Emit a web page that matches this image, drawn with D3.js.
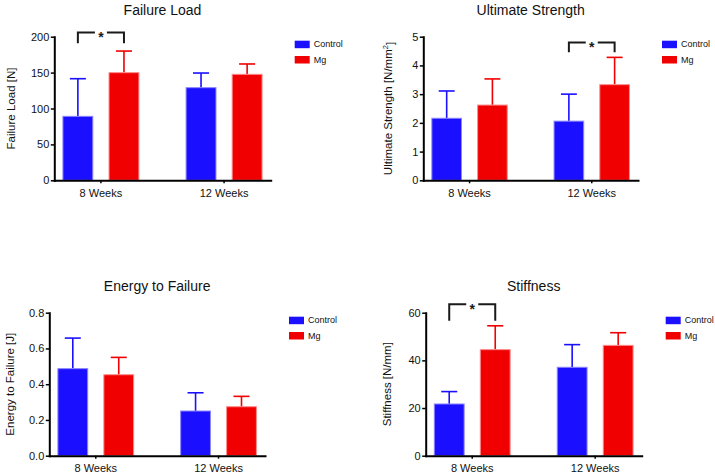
<!DOCTYPE html>
<html>
<head>
<meta charset="utf-8">
<script src="https://cdn.jsdelivr.net/npm/d3@7"></script>
<style>
  html, body { margin: 0; padding: 0; background: #fff; }
  svg { display: block; font-family: "Liberation Sans", Arial, Helvetica, sans-serif; }
</style>
</head>
<body>
<svg id="chart" width="715" height="475"></svg>
<script>
// ---------------- DATA ----------------
const groups = ["8 Weeks", "12 Weeks"];
const seriesNames = ["Control", "Mg"];
const seriesColors = ["#1a0fff", "#f00000"];
const seriesEdge = ["#8c86ff", "#ff8a8a"];

// Failure Load [N]
const failureLoadControl = [89.1, 129.0];
const failureLoadControlSD = [52.4, 20.4];
const failureLoadMg = [149.9, 147.6];
const failureLoadMgSD = [30.1, 14.4];
const failureLoadTicks = [0, 50, 100, 150, 200];

// Ultimate Strength [N/mm2]
const strengthControl = [2.16, 2.06];
const strengthControlSD = [0.95, 0.94];
const strengthMg = [2.62, 3.33];
const strengthMgSD = [0.91, 0.95];
const strengthTicks = [0, 1, 2, 3, 4, 5];

// Energy to Failure [J]
const energyControl = [0.487, 0.250];
const energyControlSD = [0.171, 0.102];
const energyMg = [0.453, 0.274];
const energyMgSD = [0.097, 0.058];
const energyTicks = [0, 0.2, 0.4, 0.6, 0.8];

// Stiffness [N/mm]
const stiffnessControl = [21.7, 37.1];
const stiffnessControlSD = [5.2, 9.5];
const stiffnessMg = [44.5, 46.3];
const stiffnessMgSD = [10.0, 5.3];
const stiffnessTicks = [0, 20, 40, 60];

// ---------------- DRAW ----------------
const svg = d3.select("#chart");

function panel(cfg) {
  const g = svg.append("g");
  const x = d3.scaleBand().domain(groups).range([cfg.x0, cfg.x1])
    .paddingInner(0.375).paddingOuter(0.066);
  const xs = d3.scaleBand().domain(seriesNames).range([0, x.bandwidth()])
    .paddingInner(0.33);
  const y = d3.scaleLinear().domain([0, cfg.max]).range([cfg.y0, cfg.y1]);

  const means = [cfg.control, cfg.mg];
  const sds = [cfg.controlSD, cfg.mgSD];
  const rows = [];
  seriesNames.forEach((s, si) => groups.forEach((gr, gi) => {
    rows.push({ s, si, gr, v: means[si][gi], sd: sds[si][gi] });
  }));

  // error bars (upper only)
  const capW = xs.bandwidth() * 0.52;
  rows.forEach(d => {
    const cx = x(d.gr) + xs(d.s) + xs.bandwidth() / 2;
    g.append("line").attr("x1", cx).attr("x2", cx)
      .attr("y1", y(d.v)).attr("y2", y(d.v + d.sd))
      .attr("stroke", seriesColors[d.si]).attr("stroke-width", 1.6);
    g.append("line").attr("x1", cx - capW / 2).attr("x2", cx + capW / 2)
      .attr("y1", y(d.v + d.sd)).attr("y2", y(d.v + d.sd))
      .attr("stroke", seriesColors[d.si]).attr("stroke-width", 1.6);
  });

  // bars
  g.selectAll("rect.bar").data(rows).join("rect").attr("class", "bar")
    .attr("x", d => x(d.gr) + xs(d.s) + 0.5)
    .attr("width", xs.bandwidth() - 1)
    .attr("y", d => y(d.v))
    .attr("height", d => y(0) - y(d.v))
    .attr("fill", d => seriesColors[d.si])
    .attr("stroke", d => seriesEdge[d.si])
    .attr("stroke-width", 1);

  // axes
  const yAxis = g.append("g").attr("transform", `translate(${cfg.x0},0)`)
    .call(d3.axisLeft(y).tickValues(cfg.ticks).tickSize(3.5).tickSizeOuter(0)
      .tickPadding(1.5).tickFormat(cfg.fmt));
  const xAxis = g.append("g").attr("transform", `translate(0,${cfg.y0})`)
    .call(d3.axisBottom(x).tickSize(3).tickSizeOuter(0).tickPadding(5.6));
  [yAxis, xAxis].forEach(a => {
    a.select(".domain").attr("stroke", "#000").attr("stroke-width", 2)
      .attr("stroke-linecap", "square");
    a.selectAll(".tick line").attr("stroke", "#000").attr("stroke-width", 1.5);
    a.selectAll(".tick text").attr("fill", "#111").style("font-size", "11px")
      .style("font-family", '"Liberation Sans", Arial, sans-serif');
  });

  // title
  g.append("text").attr("x", (cfg.x0 + cfg.x1) / 2).attr("y", cfg.y1 - 21.5)
    .attr("text-anchor", "middle").style("font-size", "14px").attr("fill", "#111")
    .text(cfg.title);

  // y label
  const yl = g.append("text")
    .attr("transform", `translate(${cfg.ylx},${(cfg.y0 + cfg.y1) / 2}) rotate(-90)`)
    .attr("text-anchor", "middle").attr("dominant-baseline", "central")
    .style("font-size", "11.5px").attr("fill", "#111");
  yl.append("tspan").text(cfg.ylabel);
  if (cfg.ysup) {
    yl.append("tspan").attr("dy", "-0.45em").style("font-size", "7.5px").text(cfg.ysup);
    yl.append("tspan").attr("dy", "0.45em").text(cfg.yafter);
  }

  // legend
  seriesNames.forEach((s, i) => {
    const ly = cfg.y1 + 4 + i * 15.3;
    g.append("rect").attr("x", cfg.x1 + 24).attr("y", ly).attr("width", 15).attr("height", 7.5)
      .attr("fill", seriesColors[i]);
    g.append("text").attr("x", cfg.x1 + 43).attr("y", ly + 3.75)
      .attr("dominant-baseline", "central").style("font-size", "9px").attr("fill", "#111")
      .text(s);
  });

  // significance bracket
  if (cfg.bracket) {
    const b = cfg.bracket;
    const xa = x(groups[b.group]) + xs(seriesNames[0]) + xs.bandwidth() / 2;
    const xb = x(groups[b.group]) + xs(seriesNames[1]) + xs.bandwidth() / 2;
    const xm = (xa + xb) / 2;
    const yt = y(b.top), yb = y(b.leg);
    const st = { stroke: "#1a1a1a", w: 2 };
    g.append("path").attr("d", `M${xa},${yb}V${yt}H${xm - 6}`)
      .attr("fill", "none").attr("stroke", st.stroke).attr("stroke-width", st.w);
    g.append("path").attr("d", `M${xb},${yb}V${yt}H${xm + 6}`)
      .attr("fill", "none").attr("stroke", st.stroke).attr("stroke-width", st.w);
    g.append("text").attr("x", xm).attr("y", yt + 9.5).attr("text-anchor", "middle")
      .style("font-size", "14px").style("font-weight", "bold").attr("fill", "#1a1a1a").text("*");
  }
}

panel({
  title: "Failure Load", ylabel: "Failure Load [N]",
  control: failureLoadControl, controlSD: failureLoadControlSD,
  mg: failureLoadMg, mgSD: failureLoadMgSD,
  max: 200, ticks: failureLoadTicks, fmt: d3.format("d"),
  x0: 54.3, x1: 270.7, y0: 180.3, y1: 36.7, ylx: 11,
  bracket: { group: 0, top: 206, leg: 191 }
});
panel({
  title: "Ultimate Strength", ylabel: "Ultimate Strength [N/mm", ysup: "2", yafter: "]",
  control: strengthControl, controlSD: strengthControlSD,
  mg: strengthMg, mgSD: strengthMgSD,
  max: 5, ticks: strengthTicks, fmt: d3.format("d"),
  x0: 423.3, x1: 638, y0: 180.3, y1: 36.7, ylx: 388,
  bracket: { group: 1, top: 4.8, leg: 4.46 }
});
panel({
  title: "Energy to Failure", ylabel: "Energy to Failure [J]",
  control: energyControl, controlSD: energyControlSD,
  mg: energyMg, mgSD: energyMgSD,
  max: 0.8, ticks: energyTicks, fmt: d3.format(".1f"),
  x0: 49.3, x1: 265, y0: 455.7, y1: 312.7, ylx: 10
});
panel({
  title: "Stiffness", ylabel: "Stiffness [N/mm]",
  control: stiffnessControl, controlSD: stiffnessControlSD,
  mg: stiffnessMg, mgSD: stiffnessMgSD,
  max: 60, ticks: stiffnessTicks, fmt: d3.format("d"),
  x0: 425.7, x1: 641.7, y0: 455.7, y1: 312.7, ylx: 387,
  bracket: { group: 0, top: 63.5, leg: 56.6 }
});
</script>
</body>
</html>
